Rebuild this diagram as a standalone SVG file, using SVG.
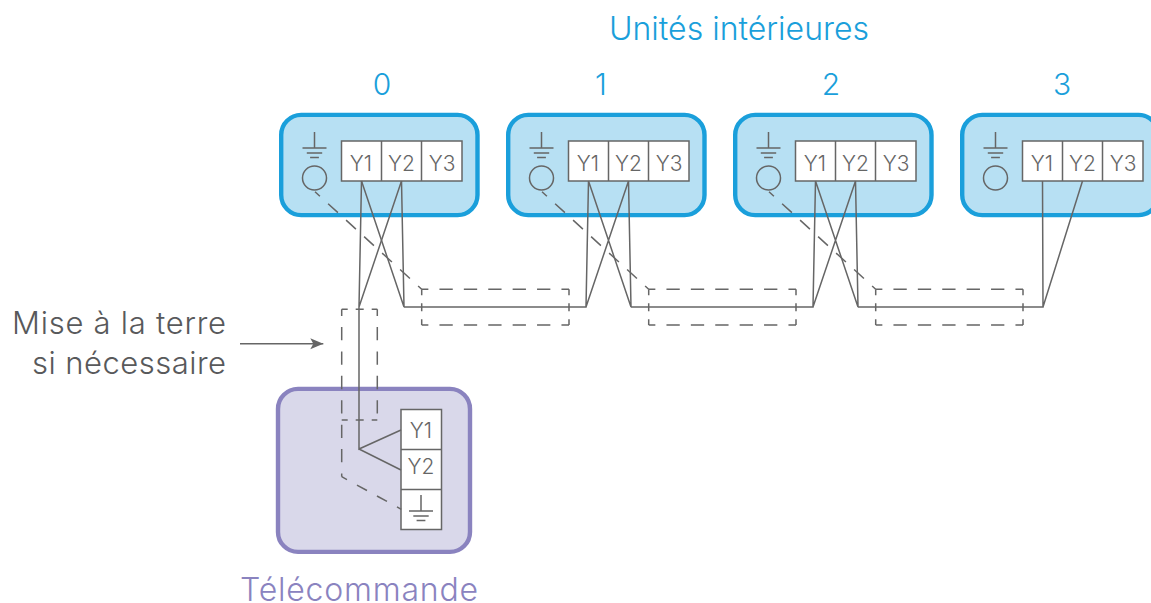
<svg xmlns="http://www.w3.org/2000/svg" xmlns:xlink="http://www.w3.org/1999/xlink" width="1151" height="603" viewBox="0 0 1151 603">
<style>
text{font-family:"Inter","Liberation Sans",sans-serif;font-weight:300}
.unit{fill:#b7e0f3;stroke:#1a9fdb;stroke-width:4.400}
.remote{fill:#d9d8ea;stroke:#8a83bf;stroke-width:4.400}
.box{fill:#fff;stroke:#666;stroke-width:1.500}
.ln{fill:none;stroke:#666;stroke-width:1.500}
.dh{fill:none;stroke:#666;stroke-width:1.500;stroke-dasharray:13.300 11.100;stroke-dashoffset:6.650}
.dv{fill:none;stroke:#666;stroke-width:1.500;stroke-dasharray:6 8 8 8 6 99}
.dd{fill:none;stroke:#666;stroke-width:1.500;stroke-dasharray:11.400 11.400;stroke-dashoffset:5.400}
.t{font-size:21px;fill:#666;text-anchor:middle}
.b{font-size:30px;fill:#1a9fdb;text-anchor:middle}
.g{font-size:31px;fill:#58595b;text-anchor:end}
</style>
<defs>
<marker id="arr" markerUnits="userSpaceOnUse" markerWidth="14" markerHeight="14" refX="13" refY="6" orient="auto"><path d="M0 0.500L13 6L0 11.500L3 6Z" fill="#666"/></marker>
<g id="gnd"><path class="ln" d="M0 0V16M-12 16H12M-7.700 21H7.700M-4.400 25.500H4.400"/></g>
<g id="term"><rect class="box" x="0" y="0" width="120.500" height="40"/><path class="ln" d="M40 0V40M80 0V40"/>
<text class="t" x="19.500" y="29.500">Y1</text><text class="t" x="60" y="29.500">Y2</text><text class="t" x="100.500" y="29.500">Y3</text></g>
</defs>
<text id="title" class="b" x="739" y="40" font-size="32" style="font-size:32px" textLength="260">Unités intérieures</text>
<g id="unit0"><rect class="unit" x="281.200" y="114.900" width="196.300" height="100.200" rx="20"/><use xlink:href="#gnd" x="314.500" y="132"/><circle class="ln" cx="314.500" cy="178" r="12"/><use xlink:href="#term" x="341.500" y="141"/><text class="b" x="382" y="95">0</text></g>
<g id="unit1"><rect class="unit" x="508.200" y="114.900" width="196.300" height="100.200" rx="20"/><use xlink:href="#gnd" x="541.500" y="132"/><circle class="ln" cx="541.500" cy="178" r="12"/><use xlink:href="#term" x="568.500" y="141"/><text class="b" x="601" y="95">1</text></g>
<g id="unit2"><rect class="unit" x="735.200" y="114.900" width="196.300" height="100.200" rx="20"/><use xlink:href="#gnd" x="768.500" y="132"/><circle class="ln" cx="768.500" cy="178" r="12"/><use xlink:href="#term" x="795.500" y="141"/><text class="b" x="831" y="95">2</text></g>
<g id="unit3"><rect class="unit" x="962.200" y="114.900" width="196.300" height="100.200" rx="20"/><use xlink:href="#gnd" x="995.500" y="132"/><circle class="ln" cx="995.500" cy="178" r="12"/><use xlink:href="#term" x="1022.500" y="141"/><text class="b" x="1062" y="95">3</text></g>
<g id="remote"><rect class="remote" x="278" y="388.900" width="192" height="163" rx="20"/>
<rect class="box" x="401" y="409.500" width="40.500" height="120"/><path class="ln" d="M401 449.500H441.500M401 489.500H441.500"/>
<text class="t" x="421" y="438.300">Y1</text><text class="t" x="421" y="474">Y2</text><use xlink:href="#gnd" x="421" y="495"/></g>
<g id="connectors">
<path class="ln" d="M361.500 181L359 307V449L401 430M359 449L401 470M401.500 181L359 307"/>
<path class="ln" d="M361.500 181L404 307L401.500 181M404 307H586L588.500 181M586 307L628.500 181M588.500 181L631 307L628.500 181M631 307H813L815.500 181M813 307L855.500 181M815.500 181L858 307L855.500 181M858 307H1043L1042.500 181M1043 307L1082.500 181"/>
<path class="dh" d="M315 191.700L421.700 289.300"/>
<path class="dh" d="M421.700 289.300H569M421.700 325H569"/>
<path class="dv" d="M421.700 289.300V325M569 289.300V325"/>
<path class="dh" d="M542 191.700L648.700 289.300"/>
<path class="dh" d="M648.700 289.300H796M648.700 325H796"/>
<path class="dv" d="M648.700 289.300V325M796 289.300V325"/>
<path class="dh" d="M769 191.700L875.700 289.300"/>
<path class="dh" d="M875.700 289.300H1023M875.700 325H1023"/>
<path class="dv" d="M875.700 289.300V325M1023 289.300V325"/>
<path class="dh" d="M341.700 309.300V476.700M377.300 309.300V420"/>
<path class="dd" d="M341.700 476.700L401.300 509.300"/>
<path class="dv" d="M341.700 309.300H377.300M341.700 420H377.300"/>
<path class="ln" d="M240 343.700H323.300" marker-end="url(#arr)"/>
</g>
<text id="note1" class="g" x="226" y="333.500" textLength="214">Mise à la terre</text>
<text id="note2" class="g" x="226" y="374" textLength="194">si nécessaire</text>
<text id="remote-label" x="359" y="601" font-size="32" fill="#8a83bf" text-anchor="middle" textLength="238">Télécommande</text>
</svg>
